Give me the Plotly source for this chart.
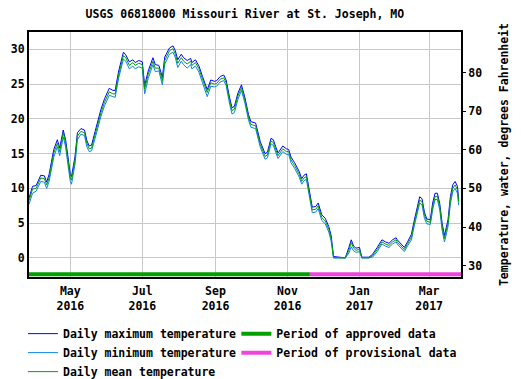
import plotly.graph_objects as go

# ---- data ----
dates = [
    "2016-03-27", "2016-03-30", "2016-04-02", "2016-04-06", "2016-04-09", "2016-04-11", "2016-04-13",
    "2016-04-17", "2016-04-20", "2016-04-22", "2016-04-25", "2016-04-27", "2016-04-29", "2016-05-01",
    "2016-05-02", "2016-05-05", "2016-05-07", "2016-05-10", "2016-05-13", "2016-05-15", "2016-05-17",
    "2016-05-19", "2016-05-22", "2016-05-25", "2016-05-27", "2016-05-30", "2016-06-03", "2016-06-06",
    "2016-06-08", "2016-06-11", "2016-06-15", "2016-06-17", "2016-06-20", "2016-06-23", "2016-06-25",
    "2016-06-28", "2016-07-01", "2016-07-03", "2016-07-06", "2016-07-10", "2016-07-12", "2016-07-15",
    "2016-07-18", "2016-07-20", "2016-07-24", "2016-07-27", "2016-07-29", "2016-07-31", "2016-08-03",
    "2016-08-05", "2016-08-08", "2016-08-11", "2016-08-12", "2016-08-15", "2016-08-18", "2016-08-21",
    "2016-08-25", "2016-08-28", "2016-08-31", "2016-09-02", "2016-09-05", "2016-09-08", "2016-09-10",
    "2016-09-13", "2016-09-15", "2016-09-17", "2016-09-20", "2016-09-23", "2016-09-26", "2016-09-29",
    "2016-10-01", "2016-10-05", "2016-10-06", "2016-10-09", "2016-10-13", "2016-10-15", "2016-10-18",
    "2016-10-20", "2016-10-22", "2016-10-24", "2016-10-28", "2016-10-31", "2016-11-02", "2016-11-04",
    "2016-11-07", "2016-11-11", "2016-11-13", "2016-11-15", "2016-11-17", "2016-11-19", "2016-11-22",
    "2016-11-25", "2016-11-27", "2016-11-30", "2016-12-03", "2016-12-06", "2016-12-08", "2016-12-10",
    "2016-12-20", "2016-12-23", "2016-12-25", "2016-12-27", "2016-12-29", "2017-01-01", "2017-01-03",
    "2017-01-09", "2017-01-12", "2017-01-16", "2017-01-20", "2017-01-23", "2017-01-26", "2017-01-29",
    "2017-02-01", "2017-02-02", "2017-02-05", "2017-02-08", "2017-02-11", "2017-02-14", "2017-02-16",
    "2017-02-19", "2017-02-21", "2017-02-23", "2017-02-25", "2017-02-27", "2017-03-02", "2017-03-04",
    "2017-03-06", "2017-03-08", "2017-03-10", "2017-03-12", "2017-03-14", "2017-03-17", "2017-03-19",
    "2017-03-21", "2017-03-23", "2017-03-25", "2017-03-26",
]

temp_mean = [
    8.2, 9.9, 10.0, 11.5, 11.4, 10.5, 11.5,
    15.1, 16.5, 15.3, 18.0, 16.5, 14.1, 11.5,
    11.2, 14.1, 17.5, 18.2, 18.0, 16.5, 15.7,
    15.8, 17.7, 19.7, 20.9, 22.4, 23.9, 23.6,
    23.6, 26.4, 29.1, 28.8, 27.7, 28.1, 27.7,
    28.0, 27.8, 24.3, 26.4, 28.3, 27.3, 27.3,
    25.5, 28.4, 29.8, 30.1, 29.3, 28.0, 28.8,
    28.3, 27.9, 28.3, 27.7, 28.1, 27.2, 25.7,
    23.8, 25.2, 25.0, 25.1, 25.7, 25.9, 25.2,
    22.6, 21.2, 21.4, 23.3, 24.5, 22.6, 20.2,
    19.2, 19.0, 18.4, 16.3, 14.6, 14.8, 16.8,
    16.6, 15.6, 14.7, 15.7, 15.3, 15.3, 14.1,
    13.3, 12.0, 11.0, 11.5, 11.7, 9.5, 6.9,
    7.0, 7.5, 5.8, 5.3, 4.1, 2.8, 0.0,
    0.0, 1.1, 2.2, 1.4, 1.1, 1.2, 0.0,
    0.0, 0.3, 1.2, 2.3, 2.0, 1.8, 2.3,
    2.6, 2.3, 1.8, 1.2, 2.1, 3.0, 4.7,
    6.9, 8.3, 8.1, 6.2, 5.3, 5.1, 7.4,
    8.8, 8.9, 7.4, 4.5, 2.8, 5.0, 8.3,
    10.0, 10.5, 9.8, 8.1,
]

temp_max = [
    8.6, 10.3, 10.4, 11.9, 11.8, 10.9, 12.0,
    15.6, 17.0, 15.8, 18.4, 17.0, 14.6, 12.0,
    11.7, 14.6, 18.0, 18.6, 18.4, 16.9, 16.1,
    16.2, 18.2, 20.2, 21.4, 22.9, 24.4, 24.1,
    24.1, 26.9, 29.6, 29.2, 28.2, 28.5, 28.1,
    28.4, 28.2, 24.8, 26.9, 28.8, 27.8, 27.7,
    26.0, 28.9, 30.2, 30.5, 29.8, 28.5, 29.3,
    28.8, 28.4, 28.7, 28.1, 28.5, 27.6, 26.1,
    24.2, 25.6, 25.4, 25.5, 26.1, 26.3, 25.6,
    23.0, 21.6, 21.8, 23.7, 24.9, 23.0, 20.6,
    19.6, 19.4, 18.8, 16.7, 15.0, 15.2, 17.2,
    17.0, 16.0, 15.1, 16.1, 15.7, 15.6, 14.5,
    13.7, 12.4, 11.4, 11.9, 12.1, 9.9, 7.3,
    7.4, 7.9, 6.2, 5.7, 4.5, 3.2, 0.2,
    0.0, 1.5, 2.6, 1.7, 1.4, 1.5, 0.1,
    0.1, 0.5, 1.5, 2.6, 2.3, 2.1, 2.6,
    2.9, 2.6, 2.1, 1.5, 2.4, 3.4, 5.1,
    7.4, 8.8, 8.5, 6.6, 5.6, 5.5, 7.9,
    9.3, 9.3, 7.8, 5.0, 3.2, 5.5, 8.8,
    10.5, 11.0, 10.3, 8.5,
]

temp_min = [
    7.7, 9.3, 9.6, 11.0, 10.9, 10.0, 11.0,
    14.5, 16.0, 14.7, 17.4, 16.0, 13.4, 11.0,
    10.6, 13.5, 17.0, 17.8, 17.6, 16.0, 15.3,
    15.4, 17.2, 19.2, 20.4, 21.9, 23.4, 23.2,
    23.1, 25.9, 28.6, 28.3, 27.2, 27.6, 27.2,
    27.5, 27.3, 23.6, 25.8, 27.8, 26.8, 26.9,
    24.9, 27.9, 29.3, 29.6, 28.8, 27.4, 28.3,
    27.8, 27.3, 27.8, 27.2, 27.6, 26.7, 25.2,
    23.2, 24.7, 24.6, 24.7, 25.3, 25.5, 24.8,
    22.1, 20.7, 20.9, 22.8, 24.1, 22.2, 19.8,
    18.8, 18.6, 18.0, 15.9, 14.2, 14.4, 16.4,
    16.2, 15.2, 14.3, 15.3, 14.9, 14.9, 13.7,
    12.9, 11.6, 10.6, 11.1, 11.3, 9.1, 6.5,
    6.6, 7.1, 5.4, 4.9, 3.7, 2.4, 0.0,
    0.0, 0.7, 1.6, 1.0, 0.8, 0.9, 0.0,
    0.0, 0.1, 0.9, 2.0, 1.7, 1.5, 2.0,
    2.3, 2.0, 1.5, 0.9, 1.8, 2.6, 4.3,
    6.4, 7.9, 7.6, 5.7, 4.9, 4.8, 6.9,
    8.4, 8.4, 6.9, 4.0, 2.3, 4.5, 7.8,
    9.5, 10.0, 9.3, 7.6,
]

approved_dates = ["2016-03-27", "2016-11-20"]
provisional_dates = ["2016-11-20", "2017-03-28"]

left_ticks = [0, 5, 10, 15, 20, 25, 30]
right_ticks = [30, 40, 50, 60, 70, 80]

x_range = ["2016-03-27", "2017-03-28"]
c_range = [-2.75, 32.5]
f_range = [c * 1.8 + 32 for c in c_range]

FONT = "DejaVu Sans Mono"
FS = 11.5
bar_level = -2.35

fig = go.Figure()

fig.add_trace(go.Scatter(x=dates, y=temp_max, mode="lines", name="Daily maximum temperature",
                         line=dict(color="#0000ff", width=1)))
fig.add_trace(go.Scatter(x=dates, y=temp_min, mode="lines", name="Daily minimum temperature",
                         line=dict(color="#0a84e6", width=1)))
fig.add_trace(go.Scatter(x=dates, y=temp_mean, mode="lines", name="Daily mean temperature",
                         line=dict(color="#00a000", width=1)))
fig.add_trace(go.Scatter(x=approved_dates, y=[bar_level] * len(approved_dates), mode="lines",
                         name="Period of approved data", line=dict(color="#00a000", width=4),
                         legend="legend2"))
fig.add_trace(go.Scatter(x=provisional_dates, y=[bar_level] * len(provisional_dates), mode="lines",
                         name="Period of provisional data", line=dict(color="#f044dc", width=4),
                         legend="legend2"))
# invisible trace to activate the Fahrenheit axis
fig.add_trace(go.Scatter(x=x_range, y=f_range, mode="lines", yaxis="y2",
                         line=dict(color="rgba(0,0,0,0)", width=1), showlegend=False, hoverinfo="skip"))

fig.update_layout(
    width=521, height=379,
    margin=dict(l=29, r=60, t=32, b=102, autoexpand=False),
    paper_bgcolor="white", plot_bgcolor="white",
    font=dict(family=FONT, size=FS, color="black", weight="bold"),
    title=dict(text="USGS 06818000 Missouri River at St. Joseph, MO", x=0.47, xanchor="center",
               y=0.963, yanchor="middle", font=dict(family=FONT, size=FS, weight="bold")),
    xaxis=dict(range=x_range, type="date", dtick="M2", tick0="2016-05-01", tickformat="%b<br>%Y",
               showgrid=True, gridcolor="#c8c8c8", gridwidth=1, showline=True, linecolor="black",
               linewidth=2, mirror=True, ticks="", zeroline=False, ticklabelstandoff=2),
    yaxis=dict(range=c_range, tickvals=left_ticks, showgrid=True, gridcolor="#c8c8c8", gridwidth=1,
               showline=True, linecolor="black", linewidth=2, mirror=True, ticks="", zeroline=False),
    yaxis2=dict(range=f_range, tickvals=right_ticks, overlaying="y", side="right", showgrid=False,
                zeroline=False, ticks="outside", ticklen=4, tickcolor="black",
                title=dict(text="Temperature, water, degrees Fahrenheit", standoff=18,
                           font=dict(family=FONT, size=FS, weight="bold"))),
    legend=dict(x=-0.014, y=-0.172, xanchor="left", yanchor="top", orientation="v",
                bgcolor="rgba(0,0,0,0)"),
    legend2=dict(x=0.48, y=-0.172, xanchor="left", yanchor="top", orientation="v",
                 bgcolor="rgba(0,0,0,0)"),
    showlegend=True,
)

fig.write_html("out.html", config={"displayModeBar": False},
               post_script="document.body.style.margin='0';")
